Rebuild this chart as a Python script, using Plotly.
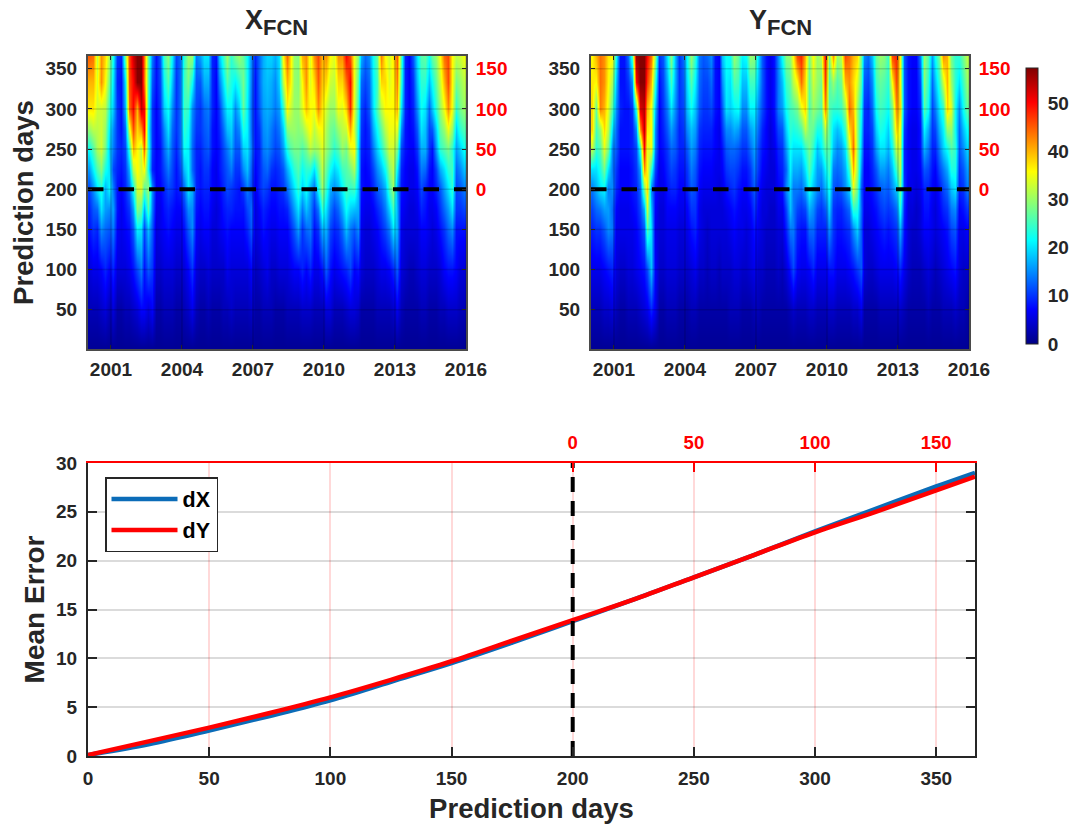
import plotly.graph_objects as go

W, H = 1081, 824
FONT = "Liberation Sans, Arial, sans-serif"
DARK = "#262626"

# ---------- data ----------
year_centers = [2000 + (i + 0.5) / 6 for i in range(96)]
days = [1, 50, 100, 150, 175, 200, 225, 250, 275, 300, 333, 366]

x_d1 = [1,1,1,1,1,1,1,1,1,1,1,1,1,1,1,1,1,1,1,1,1,1,1,1,1,1,1,1,1,1,1,1,1,1,1,1,1,1,1,1,1,1,1,1,1,1,1,1,
        1,1,1,1,1,1,1,1,1,1,1,1,1,1,1,1,1,1,1,1,1,1,1,1,1,1,1,1,1,1,1,1,1,1,1,1,1,1,1,1,1,1,1,1,1,1,1,1]
x_d50 = [3,3,3,4,5,3,5,2,2,3,3,4,5,7,7,5,7,2,2,3,3,3,2,2,3,4,6,3,2,2,3,2,2,2,3,3,4,3,3,3,3,4,2,2,3,3,3,2,
         2,2,3,3,3,3,4,4,4,3,3,3,5,5,3,3,3,4,5,5,4,2,2,2,2,3,3,3,3,4,6,3,2,2,2,2,3,3,2,2,2,3,3,4,4,4,3,3]
x_d100 = [5,6,6,7,9,7,9,5,5,5,6,8,11,14,8,12,10,4,4,5,5,5,4,4,5,7,10,5,4,4,5,4,4,4,4,6,5,5,5,5,5,7,3,4,5,6,4,4,
          5,5,5,6,7,7,9,7,9,6,6,8,12,8,6,7,8,9,11,7,8,5,4,4,4,5,6,6,7,9,12,5,4,3,3,4,5,5,4,4,4,5,7,8,8,7,5,5]
x_d150 = [8,10,9,15,13,12,14,7,6,7,8,12,21,20,11,18,12,5,6,7,8,7,6,6,8,12,15,7,6,7,7,5,5,6,7,8,7,7,7,7,9,12,5,6,8,7,6,6,
          7,7,7,9,12,16,10,13,14,8,10,17,17,11,9,10,13,18,14,12,15,6,5,5,6,7,9,11,14,20,17,6,5,5,5,5,7,7,6,5,6,8,10,13,15,8,8,8]
x_d175 = [9,12,13,20,16,15,16,8,6,8,10,16,29,27,17,26,14,6,6,8,9,8,7,7,10,15,15,8,7,8,8,6,5,6,8,9,9,8,8,8,11,13,5,7,9,8,7,7,
          8,8,9,12,16,20,14,18,15,10,14,24,20,14,11,13,17,22,19,18,17,7,6,6,7,9,11,14,19,25,17,7,6,5,5,6,9,8,6,6,7,10,13,16,20,10,10,11]
x_d200 = [11,15,20,23,17,21,14,8,7,9,13,22,33,34,26,30,15,7,7,9,11,10,8,9,13,20,17,9,8,9,9,7,6,7,9,11,10,9,8,10,14,11,6,9,11,10,8,8,
          9,10,13,16,20,24,19,22,17,13,22,30,24,17,15,17,21,25,24,25,18,8,7,7,9,12,14,17,25,30,16,8,7,6,6,7,11,9,7,7,9,12,16,20,24,11,12,14]
x_d225 = [16,21,26,29,23,20,11,9,8,10,17,32,36,33,36,22,9,7,8,11,14,11,8,11,18,21,13,9,8,10,10,7,6,8,10,12,14,10,10,15,18,12,7,9,12,13,10,9,
          10,12,17,20,24,26,22,24,24,20,26,32,27,22,19,21,25,26,28,31,20,8,7,8,11,15,18,22,29,32,21,9,7,6,6,8,14,13,8,7,11,17,20,24,25,13,15,18]
x_d250 = [22,26,31,33,28,19,14,10,9,11,24,40,36,32,44,24,10,7,8,13,17,12,9,13,22,21,13,9,9,11,12,8,7,8,11,14,17,12,12,19,20,14,8,9,14,15,13,11,
          12,16,23,26,28,28,26,28,32,30,31,34,30,27,24,26,30,28,34,36,20,9,8,9,14,19,23,28,33,33,28,11,8,7,7,10,17,17,10,8,16,24,26,28,24,16,19,22]
x_d275 = [30,32,32,33,30,21,15,10,8,13,34,46,38,42,50,22,10,7,9,15,20,13,10,13,24,22,14,10,10,12,13,8,7,9,13,18,19,13,15,23,21,13,8,10,15,16,14,12,
          14,19,29,30,30,29,30,33,36,32,35,36,31,28,27,30,32,33,41,33,22,10,8,10,17,22,27,32,35,35,34,15,8,7,8,12,20,18,11,12,19,27,30,35,30,19,24,26]
x_d300 = [37,37,33,33,32,24,18,10,8,17,44,50,40,53,50,24,10,7,10,19,22,15,10,13,25,24,15,11,10,13,14,9,7,10,16,21,21,15,19,27,21,13,8,12,16,17,16,14,
          16,24,36,33,30,30,34,39,36,35,42,37,33,30,30,35,34,38,48,34,24,11,9,12,20,26,32,36,36,36,40,20,9,7,9,15,22,20,13,18,24,30,35,42,35,24,28,30]
x_d333 = [40,40,34,42,36,28,20,9,8,20,46,50,57,57,44,26,12,8,11,22,26,18,10,13,25,28,22,12,12,17,17,9,7,14,20,26,23,21,24,28,22,14,8,13,17,18,17,15,
          19,32,40,37,30,29,36,42,34,38,45,39,38,33,32,38,38,44,50,35,26,13,11,13,21,25,38,38,34,36,43,24,9,7,10,18,24,24,18,22,27,33,40,46,36,28,30,32]
x_d366 = [45,44,32,42,38,31,22,10,9,28,46,53,57,57,44,27,14,8,12,25,29,21,11,13,24,30,30,14,16,20,20,9,8,18,24,30,24,28,30,27,22,15,9,13,17,19,19,17,
          20,36,44,38,30,29,40,42,34,42,46,40,42,36,34,42,42,50,46,35,29,17,13,15,22,27,43,36,33,37,45,26,9,7,12,20,26,27,22,27,30,36,44,46,36,32,33,35]

y_d1 = [1,1,1,1,1,1,1,1,1,1,1,1,1,1,1,1,1,1,1,1,1,1,1,1,1,1,1,1,1,1,1,1,1,1,1,1,1,1,1,1,1,1,1,1,1,1,1,1,
        1,1,1,1,1,1,1,1,1,1,1,1,1,1,1,1,1,1,1,1,1,1,1,1,1,1,1,1,1,1,1,1,1,1,1,1,1,1,1,1,1,1,1,1,1,1,1,1]
y_d50 = [3,3,3,4,4,5,3,2,2,3,3,3,4,5,6,9,6,2,2,3,3,3,2,2,2,3,3,2,2,2,2,2,2,2,2,3,3,3,2,2,2,3,3,2,2,2,2,2,
         2,2,3,4,3,3,3,4,4,3,3,3,4,4,3,3,3,3,4,4,6,2,2,2,2,3,3,3,3,3,4,3,2,2,2,2,2,3,2,2,2,3,3,3,4,3,3,2]
y_d100 = [6,6,6,7,8,9,5,4,4,5,5,6,7,8,11,18,7,4,4,5,5,5,4,4,4,5,6,4,4,3,4,4,3,4,4,4,5,5,4,4,5,6,4,4,3,3,3,4,
          3,5,8,11,7,6,6,7,9,6,6,6,8,8,6,6,6,7,8,10,12,5,4,4,5,6,6,6,6,7,9,6,4,3,3,3,4,5,4,3,4,5,6,7,8,5,4,4]
y_d150 = [9,10,10,12,15,14,6,6,6,6,6,7,9,12,26,20,6,5,5,6,6,6,5,5,6,8,9,6,5,4,5,5,5,5,5,6,7,6,6,5,6,8,6,5,4,4,4,5,
          5,9,14,14,9,8,8,13,13,9,9,9,15,10,8,8,9,10,15,19,12,5,5,6,7,8,9,8,9,10,17,8,5,4,4,5,7,7,6,5,6,7,8,11,12,6,6,7]
y_d175 = [11,13,14,16,16,13,7,6,6,6,7,8,11,17,33,18,7,5,5,7,7,7,6,6,7,10,10,6,5,5,5,5,5,5,6,7,8,7,6,6,7,10,7,5,5,4,4,6,
          6,11,18,14,11,10,11,17,15,11,10,12,19,10,9,9,11,13,24,23,13,6,6,7,8,10,11,10,11,13,23,9,5,5,4,5,8,8,6,5,7,9,10,14,15,7,8,10]
y_d200 = [14,17,20,21,14,15,9,7,7,7,8,9,13,28,38,15,8,6,6,8,9,9,7,7,9,12,11,7,6,6,6,6,5,6,8,9,10,8,7,7,9,12,8,6,5,5,5,7,
          8,15,19,14,14,13,16,22,18,15,13,17,22,12,11,12,15,19,34,27,12,7,7,8,10,12,13,12,15,18,28,10,6,6,5,6,9,9,7,6,8,11,13,18,20,9,10,14]
y_d225 = [20,20,23,28,20,14,10,7,7,7,8,10,16,42,36,24,11,6,7,9,11,10,8,8,10,14,12,8,7,7,7,6,6,7,10,11,11,10,8,8,10,14,10,7,6,5,5,8,
          9,13,21,17,17,16,20,26,21,16,16,21,25,14,13,14,17,25,40,30,15,7,7,9,12,16,16,14,18,25,32,9,7,6,6,7,12,11,8,7,11,14,17,23,23,10,12,16]
y_d250 = [32,24,26,34,28,15,12,8,8,8,9,11,24,50,34,35,14,7,8,10,13,12,9,9,12,16,14,9,8,8,8,7,6,8,12,13,13,12,10,10,13,16,11,8,7,5,6,9,
          10,16,22,20,20,20,24,28,24,18,21,26,26,18,15,16,20,32,44,30,18,8,8,10,16,20,20,17,22,32,33,9,7,6,6,8,17,14,9,9,14,19,22,26,24,12,15,19]
y_d275 = [38,25,30,38,32,20,13,8,8,8,9,15,42,54,37,36,15,7,9,12,16,13,9,10,15,18,16,10,9,9,9,7,6,10,15,15,17,16,12,12,16,18,13,9,7,5,7,11,
          12,19,24,23,24,26,32,28,27,23,23,32,26,20,18,20,25,38,42,30,20,9,9,11,19,23,22,19,26,38,35,10,7,6,6,8,21,17,10,11,17,21,30,30,22,13,18,22]
y_d300 = [38,27,43,40,34,26,15,9,8,8,10,24,52,54,40,35,18,7,10,14,20,15,10,11,18,22,18,12,10,10,11,8,7,12,20,19,21,22,15,15,21,21,15,11,8,6,8,14,
          16,22,25,26,28,34,38,26,30,28,26,42,26,24,24,25,30,44,40,30,22,10,9,13,22,25,24,22,28,42,38,12,8,7,7,9,26,22,11,14,20,24,38,34,22,15,22,27]
y_d333 = [37,36,44,42,36,31,18,8,8,10,15,50,57,57,47,40,24,8,11,17,25,17,10,12,20,26,21,13,11,11,13,8,7,15,21,20,26,25,18,18,25,25,18,12,8,6,8,14,
          18,25,27,32,36,44,38,27,33,30,28,47,26,30,26,28,40,42,38,34,26,12,11,15,25,27,26,24,36,46,36,12,8,7,7,11,29,24,13,18,24,33,40,30,24,20,25,30]
y_d366 = [36,40,44,42,37,36,22,8,8,13,25,56,57,57,50,44,30,10,12,20,29,18,10,13,22,30,24,14,12,13,15,8,7,18,22,22,30,27,21,22,30,29,20,12,8,6,8,15,
          22,29,30,36,46,48,40,28,36,30,32,49,28,42,30,32,46,44,40,38,28,15,13,18,27,30,29,25,46,48,36,12,8,7,7,14,30,26,16,22,28,42,40,28,24,24,28,32]

error_days = [0, 25, 50, 75, 100, 125, 150, 175, 200, 225, 250, 275, 300, 325, 350, 366]
dx_values = [0.1, 1.2, 2.6, 4.1, 5.7, 7.6, 9.5, 11.6, 13.8, 16.0, 18.3, 20.6, 23.0, 25.3, 27.6, 29.0]
dy_values = [0.1, 1.5, 2.9, 4.4, 6.0, 7.8, 9.7, 11.8, 13.9, 16.0, 18.3, 20.6, 22.9, 25.0, 27.2, 28.6]

year_ticks = [2001, 2004, 2007, 2010, 2013, 2016]
day_ticks = [50, 100, 150, 200, 250, 300, 350]
red_ticks = [0, 50, 100, 150]
mean_x_ticks = [0, 50, 100, 150, 200, 250, 300, 350]
mean_y_ticks = [0, 5, 10, 15, 20, 25, 30]
cbar_ticks = [0, 10, 20, 30, 40, 50]
ORIGIN_DAY = 200

x_rows = [x_d1, x_d50, x_d100, x_d150, x_d175, x_d200, x_d225, x_d250, x_d275, x_d300, x_d333, x_d366]
y_rows = [y_d1, y_d50, y_d100, y_d150, y_d175, y_d200, y_d225, y_d250, y_d275, y_d300, y_d333, y_d366]
for name, rows in (("x", x_rows), ("y", y_rows)):
    for d, r in zip(days, rows):
        assert len(r) == 96, (name, d, len(r))

JET = [[0, "#000084"], [0.125, "#0000ff"], [0.375, "#00ffff"],
       [0.625, "#ffff00"], [0.875, "#ff0000"], [1, "#800000"]]


def dx(a, b):
    return [a / W, b / W]


def dy(top, bottom):
    return [1 - bottom / H, 1 - top / H]


tick_font = dict(family=FONT, size=19, color=DARK, weight="bold")
red_font = dict(family=FONT, size=19, color="#ff0000", weight="bold")
P1 = (88, 466)
P2 = (591, 969)
PY = (56, 349)
YEAR_RANGE = [2000.03, 2016]
DAY_RANGE = [1, 366]
RED_RANGE = [DAY_RANGE[0] - ORIGIN_DAY, DAY_RANGE[1] - ORIGIN_DAY]

fig = go.Figure()


def grid_trace(xa, ya):
    xs, ys = [], []
    for t in day_ticks:
        xs += [YEAR_RANGE[0], YEAR_RANGE[1], None]
        ys += [t, t, None]
    for t in year_ticks:
        xs += [t, t, None]
        ys += [DAY_RANGE[0], DAY_RANGE[1], None]
    return go.Scatter(x=xs, y=ys, xaxis=xa, yaxis=ya, mode="lines", showlegend=False,
                      hoverinfo="skip", line=dict(color="rgba(0,0,0,0.16)", width=1.5))


for rows, xa, ya, ra in ((x_rows, "x", "y", "y4"), (y_rows, "x2", "y2", "y5")):
    fig.add_trace(go.Heatmap(x=year_centers, y=days, z=rows, xaxis=xa, yaxis=ya,
                             coloraxis="coloraxis", zsmooth="best"))
    fig.add_trace(grid_trace(xa, ya))
    fig.add_trace(go.Scatter(x=YEAR_RANGE, y=[0, 0], xaxis=xa, yaxis=ra, mode="lines",
                             showlegend=False, hoverinfo="skip",
                             line=dict(color="black", width=4, dash="15.5px,15px")))

fig.add_trace(go.Scatter(x=error_days, y=dx_values, name="dX", xaxis="x3", yaxis="y3", mode="lines",
                         line=dict(color="#0b6cb8", width=4.5, shape="spline")))
fig.add_trace(go.Scatter(x=error_days, y=dy_values, name="dY", xaxis="x3", yaxis="y3", mode="lines",
                         line=dict(color="#ff0000", width=4.5, shape="spline")))
fig.add_trace(go.Scatter(x=[0, 0], y=[0, 30], xaxis="x4", yaxis="y3", mode="lines", showlegend=False,
                         hoverinfo="skip", line=dict(color="black", width=4, dash="15px,9px")))


def heat_x(domain):
    return dict(domain=dx(*domain), range=YEAR_RANGE, tickvals=year_ticks, ticks="inside", ticklen=4,
                tickcolor=DARK, tickwidth=1, showline=True, linecolor="#4a4a4a", linewidth=2,
                mirror="ticks", showgrid=False, zeroline=False, tickfont=tick_font,
                tickformat="d", ticklabelstandoff=2)


def heat_y(domain, anchor):
    return dict(domain=dy(*PY), range=DAY_RANGE, tickvals=day_ticks, ticks="inside", ticklen=4,
                tickcolor=DARK, tickwidth=1, showline=True, linecolor="#4a4a4a", linewidth=2,
                mirror="ticks", showgrid=False, zeroline=False, tickfont=tick_font,
                anchor=anchor, ticklabelstandoff=5)


def red_y(over, anchor):
    return dict(overlaying=over, side="right", anchor=anchor, range=RED_RANGE, tickvals=red_ticks,
                ticks="outside", ticklen=5, tickcolor="rgba(0,0,0,0)", showline=False, showgrid=False,
                zeroline=False, tickfont=red_font)


SUB = '<sub><span style="font-size:22px">FCN</span></sub>'

fig.update_layout(
    width=W, height=H, margin=dict(l=0, r=0, t=0, b=0, autoexpand=False), autosize=False,
    paper_bgcolor="white", plot_bgcolor="white",
    font=dict(family=FONT, color=DARK),
    coloraxis=dict(
        cmin=0, cmax=57.3, colorscale=JET,
        colorbar=dict(x=1026 / W, xanchor="left", y=1 - 344 / H, yanchor="bottom",
                      lenmode="pixels", len=276, thicknessmode="pixels", thickness=12,
                      tickvals=cbar_ticks, ticks="outside", ticklen=6, tickcolor="rgba(0,0,0,0)",
                      outlinecolor=DARK, outlinewidth=1, tickfont=dict(family=FONT, size=19, color=DARK, weight="bold"),
                      xpad=0, ypad=0),
    ),
    xaxis=heat_x(P1),
    yaxis=dict(heat_y(P1, "x"), title=dict(text="<b>Prediction days</b>", font=dict(family=FONT, size=27.5, color=DARK), standoff=4)),
    xaxis2=dict(heat_x(P2), anchor="y2"),
    yaxis2=heat_y(P2, "x2"),
    yaxis4=red_y("y", "x"),
    yaxis5=red_y("y2", "x2"),
    xaxis3=dict(domain=dx(88, 975), range=[0, 366], tickvals=mean_x_ticks, anchor="y3",
                ticks="inside", ticklen=9, tickcolor=DARK, tickwidth=1.5, showline=True, linecolor=DARK,
                linewidth=2, showgrid=True, gridcolor="rgba(255,0,0,0.15)", gridwidth=1.5, zeroline=False,
                tickfont=tick_font, ticklabelstandoff=4,
                title=dict(text="<b>Prediction days</b>", font=dict(family=FONT, size=27.5, color=DARK), standoff=11)),
    yaxis3=dict(domain=dy(463, 756), range=[0, 30], tickvals=mean_y_ticks, anchor="x3",
                ticks="inside", ticklen=9, tickcolor=DARK, tickwidth=1.5, showline=True, linecolor=DARK,
                linewidth=2, mirror="ticks", showgrid=True, gridcolor="rgba(40,40,40,0.17)", gridwidth=1.5,
                zeroline=False, tickfont=tick_font, ticklabelstandoff=5,
                title=dict(text="<b>Mean Error</b>", font=dict(family=FONT, size=28, color=DARK), standoff=3)),
    xaxis4=dict(overlaying="x3", side="top", anchor="y3", range=[0 - ORIGIN_DAY, 366 - ORIGIN_DAY],
                tickvals=red_ticks, ticks="inside", ticklen=9, tickcolor="#ff0000", tickwidth=1.5,
                showline=True, linecolor="#ff0000", linewidth=2, showgrid=False, zeroline=False,
                tickfont=dict(red_font, size=18.5), ticklabelstandoff=5),
    legend=dict(x=105 / W, xanchor="left", y=1 - 477 / H, yanchor="top", bgcolor="white",
                bordercolor=DARK, borderwidth=1.5, itemwidth=66,
                font=dict(family=FONT, size=21.5, color="black", weight="bold")),
    annotations=[
        dict(text=f"<b>X{SUB}</b>", x=276 / W, y=1 - 42 / H, xref="paper", yref="paper",
             xanchor="center", yanchor="bottom", showarrow=False,
             font=dict(family=FONT, size=27, color=DARK)),
        dict(text=f"<b>Y{SUB}</b>", x=780 / W, y=1 - 42 / H, xref="paper", yref="paper",
             xanchor="center", yanchor="bottom", showarrow=False,
             font=dict(family=FONT, size=27, color=DARK)),
    ],
)

fig.write_html("out.html", config={"displayModeBar": False},
               post_script="document.body.style.margin='0';")
